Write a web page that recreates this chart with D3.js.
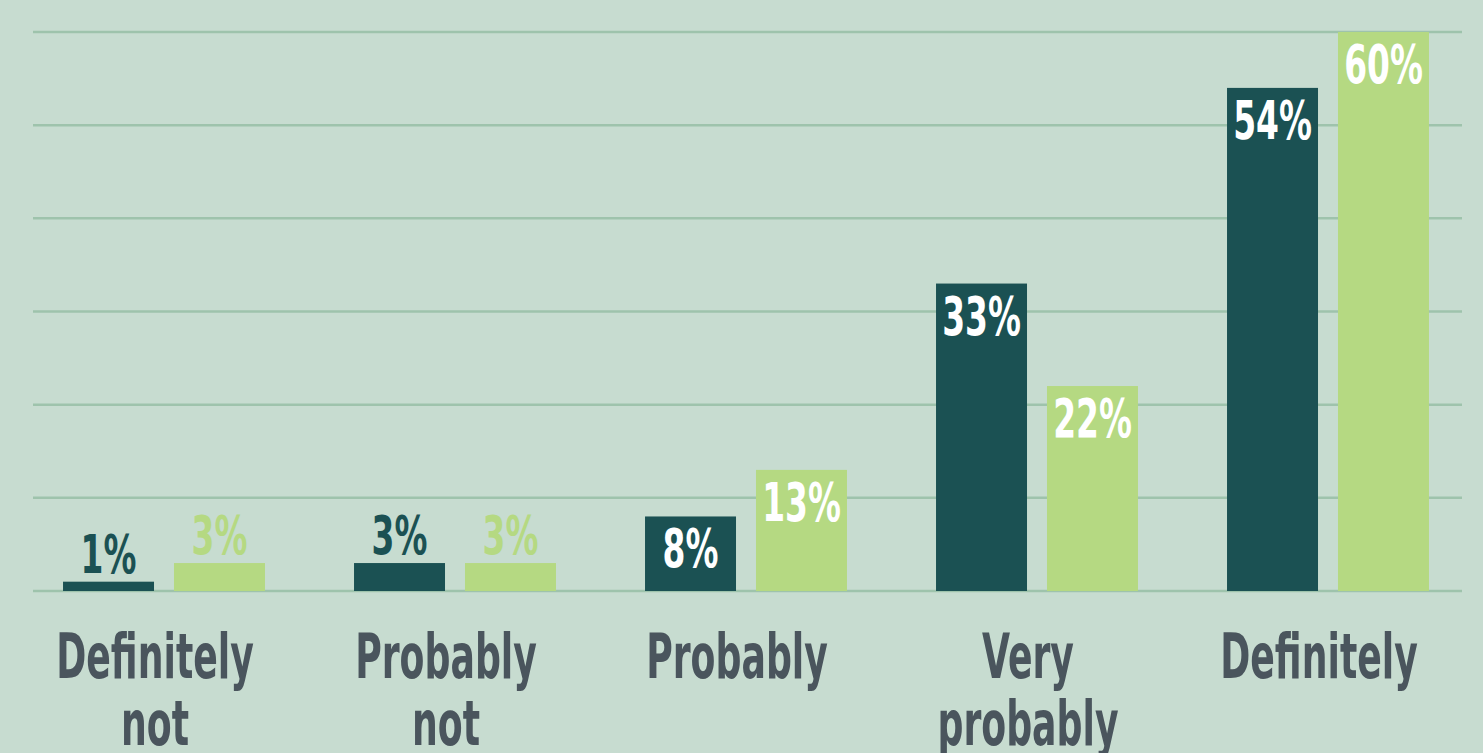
<!DOCTYPE html>
<html>
<head>
<meta charset="utf-8">
<script src="https://cdn.jsdelivr.net/npm/d3@7"></script>
<style>
html,body{margin:0;padding:0;background:#c7dcd0;}
svg{display:block;}
text{font-family:"DejaVu Sans Condensed","DejaVu Sans",sans-serif;font-weight:bold;}
</style>
</head>
<body>
<svg id="chart" width="1483" height="753"></svg>
<script>
const categories = [["Definitely","not"],["Probably","not"],["Probably"],["Very","probably"],["Definitely"]];
const seriesNames = ["A","B"];
const seriesA = [1, 3, 8, 33, 54];
const seriesB = [3, 3, 13, 22, 60];
const yTicks = [0, 10, 20, 30, 40, 50, 60];
const colors = {A:"#1b5153", B:"#b5d982"};

const W = 1483, H = 753;
const svg = d3.select("#chart");
svg.append("rect").attr("width",W).attr("height",H).attr("fill","#c7dcd0");

const keys = categories.map((c,i)=>"c"+i);
const x0 = d3.scaleBand().domain(keys).range([18.5,1473.5]).paddingInner(0.306).paddingOuter(0.153);
const x1 = d3.scaleBand().domain(seriesNames).range([0,x0.bandwidth()]).paddingInner(0.18);
const y = d3.scaleLinear().domain([0,60]).range([591,32]);

// gridlines
svg.append("g").selectAll("line").data(yTicks).join("line")
  .attr("x1",33).attr("x2",1462)
  .attr("y1",d=>y(d)).attr("y2",d=>y(d))
  .attr("stroke","#9ec3ac").attr("stroke-width",2.5);

const data = keys.map((k,i)=>({key:k, vals:[{s:"A",v:seriesA[i]},{s:"B",v:seriesB[i]}]}));
const sx = 0.69;

const groups = svg.append("g").selectAll("g").data(data).join("g")
  .attr("transform",d=>`translate(${x0(d.key)},0)`);

groups.selectAll("rect").data(d=>d.vals).join("rect")
  .attr("x",d=>x1(d.s)).attr("width",x1.bandwidth())
  .attr("y",d=>y(d.v)).attr("height",d=>y(0)-y(d.v))
  .attr("fill",d=>colors[d.s]);

groups.selectAll("text.val").data(d=>d.vals).join("text")
  .attr("class","val")
  .attr("transform",d=>{
    const cx = x1(d.s)+x1.bandwidth()/2;
    const inside = d.v >= 5;
    const by = inside ? y(d.v)+51 : y(d.v)-9;
    return `translate(${cx},${by}) scale(${sx},1)`;
  })
  .attr("text-anchor","middle")
  .attr("font-size",53)
  .attr("fill",d=> d.v>=5 ? "#ffffff" : colors[d.s])
  .text(d=>d.v+"%");

// category labels
const lab = svg.append("g").selectAll("g").data(categories).join("g")
  .attr("transform",(d,i)=>`translate(${x0(keys[i])+x0.bandwidth()/2-9},0)`);
lab.each(function(lines){
  const g = d3.select(this);
  lines.forEach((ln,j)=>{
    g.append("text")
      .attr("transform",`translate(0,${678+j*67}) scale(0.65,1)`)
      .attr("text-anchor","middle")
      .attr("font-size",62)
      .attr("fill","#4a555d")
      .text(ln);
  });
});
</script>
</body>
</html>
